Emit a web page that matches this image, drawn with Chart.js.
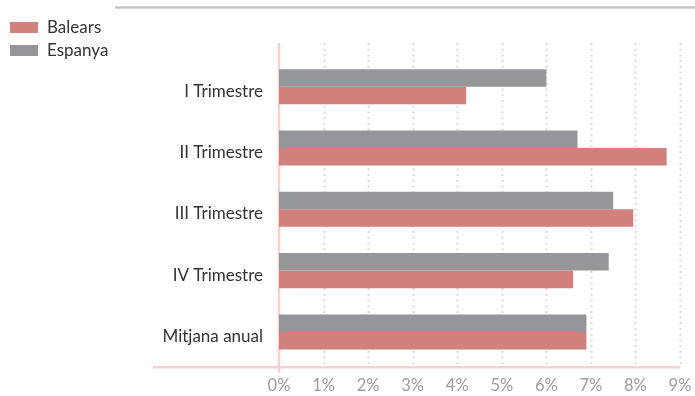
<!DOCTYPE html>
<html>
<head>
<meta charset="utf-8">
<script src="https://cdn.jsdelivr.net/npm/chart.js@4/dist/chart.umd.min.js"></script>
<style>
html,body{margin:0;padding:0;background:#fff;}
#wrap{width:695px;height:396px;position:relative;}
</style>
</head>
<body>
<div id="wrap"><canvas id="c" width="695" height="396"></canvas></div>
<script>
const categories = ["I Trimestre", "II Trimestre", "III Trimestre", "IV Trimestre", "Mitjana anual"];
const balears = [4.2, 8.7, 7.95, 6.6, 6.9];
const espanya = [6.0, 6.7, 7.5, 7.4, 6.9];
const tickValues = [0, 1, 2, 3, 4, 5, 6, 7, 8, 9];

const RED = "#d2807c";
const GRAY = "#959699";
const FONT = "Lato, 'Open Sans', sans-serif";

const decor = {
  id: "decor",
  beforeDatasetsDraw(chart) {
    const ctx = chart.ctx;
    const x = chart.scales.x;
    ctx.save();
    ctx.strokeStyle = "#d9d9d9";
    ctx.lineWidth = 2;
    ctx.setLineDash([2, 3.7]);
    tickValues.forEach(v => {
      if (v === 0) return;
      const px = Math.round(x.getPixelForValue(v)) + 0.5;
      ctx.beginPath();
      ctx.moveTo(px, 43);
      ctx.lineTo(px, 366);
      ctx.stroke();
    });
    ctx.setLineDash([]);
    ctx.strokeStyle = "#c4c4c4";
    ctx.lineWidth = 2.5;
    ctx.beginPath();
    ctx.moveTo(115, 7.5);
    ctx.lineTo(695, 7.5);
    ctx.stroke();
    ctx.strokeStyle = "#f2d3d2";
    ctx.lineWidth = 2.5;
    ctx.beginPath();
    ctx.moveTo(153, 367.3);
    ctx.lineTo(x.right, 367.3);
    ctx.stroke();
    const x0 = x.getPixelForValue(0);
    ctx.beginPath();
    ctx.moveTo(x0, 43);
    ctx.lineTo(x0, 373);
    ctx.stroke();
    ctx.restore();
  },
  afterDraw(chart) {
    const ctx = chart.ctx;
    ctx.save();
    const items = chart.data.datasets.slice().reverse();
    items.forEach((ds, i) => {
      const y = 22 + i * 23;
      ctx.fillStyle = ds.backgroundColor;
      ctx.fillRect(10, y, 28, 11);
      ctx.fillStyle = "#333333";
      ctx.font = "17px " + FONT;
      ctx.textBaseline = "middle";
      ctx.textAlign = "left";
      ctx.fillText(ds.label, 47, y + 5.5);
    });
    ctx.restore();
  }
};

new Chart(document.getElementById("c"), {
  type: "bar",
  data: {
    labels: categories,
    datasets: [
      { label: "Espanya", data: espanya, backgroundColor: GRAY, borderWidth: 0,
        categoryPercentage: 0.571, barPercentage: 1.0 },
      { label: "Balears", data: balears, backgroundColor: RED, borderWidth: 0,
        categoryPercentage: 0.571, barPercentage: 1.0 }
    ]
  },
  options: {
    indexAxis: "y",
    responsive: false,
    animation: false,
    layout: { padding: { top: 56, right: 0, bottom: 0, left: 0 } },
    plugins: { legend: { display: false }, tooltip: { enabled: false } },
    scales: {
      x: {
        type: "linear",
        min: 0, max: 9,
        afterBuildTicks(scale) { scale.ticks = tickValues.map(v => ({ value: v })); },
        afterFit(scale) { scale.height = 33.4; scale.paddingRight = 15; },
        grid: { display: false, drawTicks: false },
        border: { display: false },
        ticks: {
          padding: 13,
          color: "#9c9c9c",
          font: { family: FONT, size: 16.5 },
          callback: v => v + "%"
        }
      },
      y: {
        type: "category",
        afterFit(scale) { scale.width = 279; },
        grid: { display: false, drawTicks: false },
        border: { display: false },
        ticks: {
          padding: 16,
          labelOffset: 4.5,
          color: "#333333",
          font: { family: FONT, size: 17 }
        }
      }
    }
  },
  plugins: [decor]
});
</script>
</body>
</html>
